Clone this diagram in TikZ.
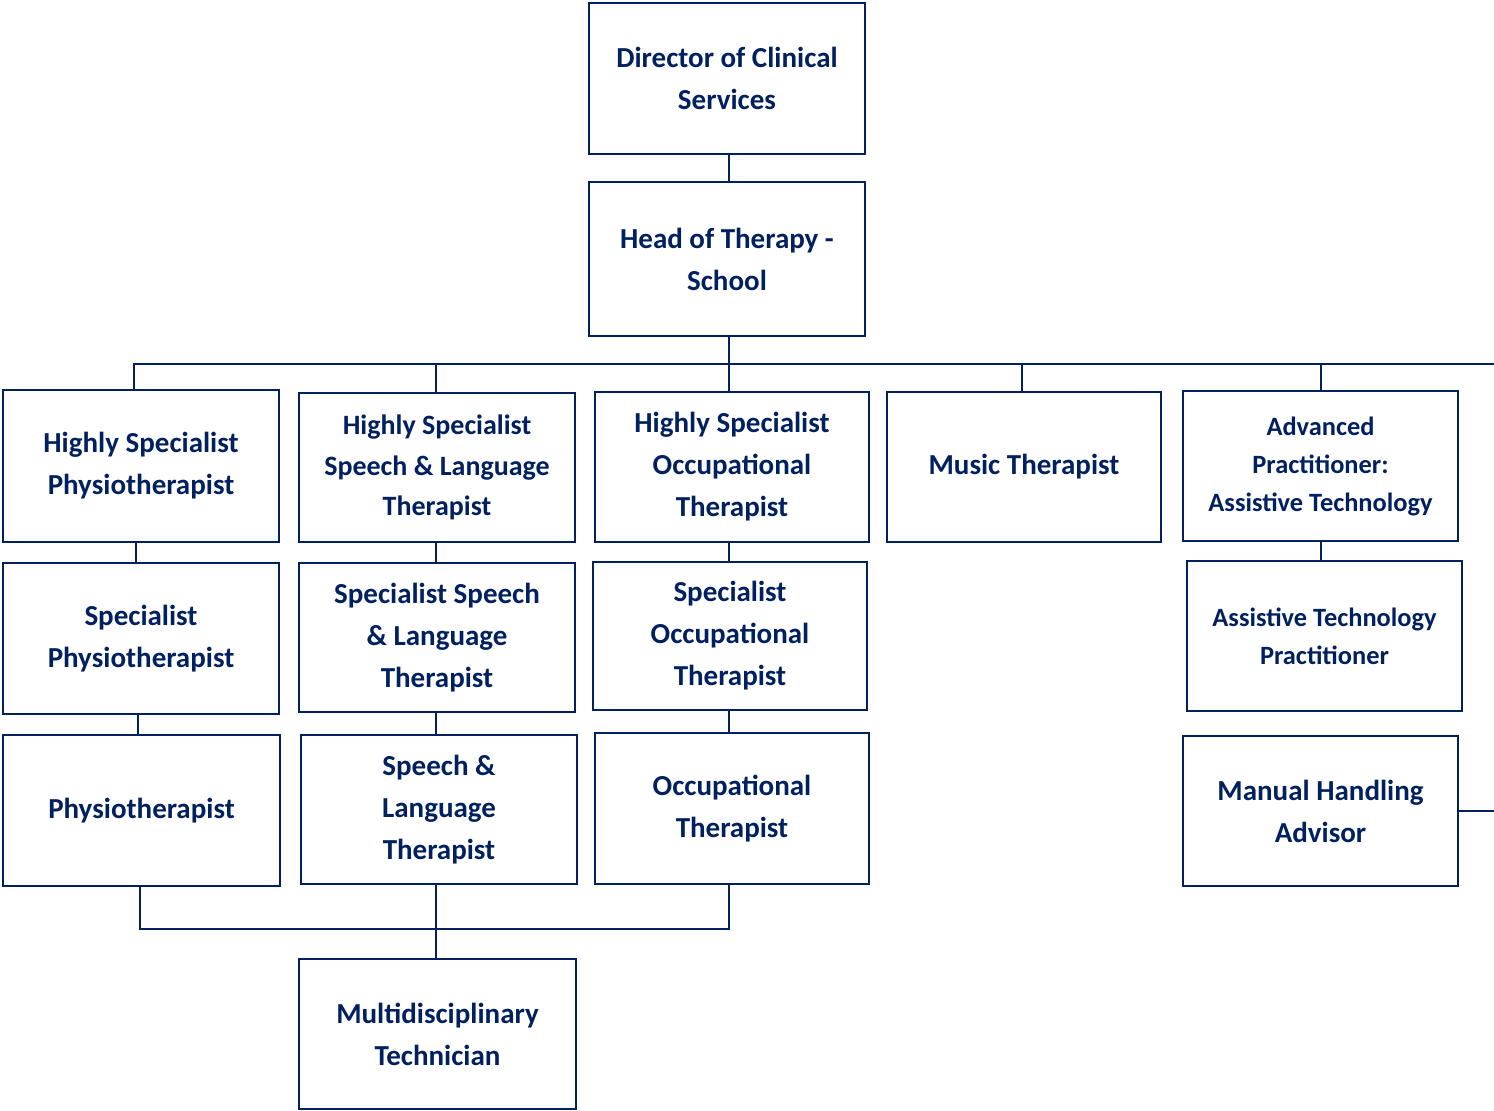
\documentclass[tikz,border=0pt]{standalone}
\usepackage{fontspec}
\setmainfont{Carlito}
\definecolor{navy}{RGB}{0,32,96}
\tikzset{
  box/.style={draw=navy, line width=2.6pt, fill=white, text=navy, align=center,
    inner sep=0pt, font=\bfseries\fontsize{29}{42}\selectfont},
  boxs/.style={box, font=\bfseries\fontsize{26.4}{38}\selectfont},
  boxm/.style={box, font=\bfseries\fontsize{28}{40.5}\selectfont},
  link/.style={draw=navy, line width=1.9pt}
}
\begin{document}
\begin{tikzpicture}[x=1pt,y=-1pt]
\useasboundingbox (0,0) rectangle (1494,1111);
\coordinate (busR) at (1494,364);
\coordinate (mj) at (0,929);

\node[box, minimum width=276, minimum height=151] (dir) at (727,78.5) {Director of Clinical\\Services};
\node[box, minimum width=276, minimum height=154] (head) at (727,259) {Head of Therapy -\\School};

\node[box, minimum width=276, minimum height=152] (hsp) at (141,466) {Highly Specialist\\Physiotherapist};
\node[boxm, minimum width=276, minimum height=149] (hsslt) at (437,467.5) {Highly Specialist\\Speech \& Language\\Therapist};
\node[box, minimum width=274, minimum height=150] (hsot) at (732,467) {Highly Specialist\\Occupational\\Therapist};
\node[box, minimum width=274, minimum height=150] (music) at (1024,467) {Music Therapist};
\node[boxs, minimum width=275, minimum height=150] (ap) at (1320.5,466) {Advanced\\Practitioner:\\Assistive Technology};

\node[box, minimum width=276, minimum height=151] (sp) at (141,638.5) {Specialist\\Physiotherapist};
\node[box, minimum width=276, minimum height=149] (sslt) at (437,637.5) {Specialist Speech\\\& Language\\Therapist};
\node[box, minimum width=274, minimum height=148] (sot) at (730,636) {Specialist\\Occupational\\Therapist};
\node[boxs, minimum width=275, minimum height=150] (atp) at (1324.5,636) {Assistive Technology\\Practitioner};

\node[box, minimum width=277, minimum height=151] (phys) at (141.5,810.5) {Physiotherapist};
\node[box, minimum width=276, minimum height=149] (slt) at (439,809.5) {Speech \&\\Language\\Therapist};
\node[box, minimum width=274, minimum height=151] (ot) at (732,808.5) {Occupational\\Therapist};
\node[box, minimum width=275, minimum height=150] (mha) at (1320.5,811) {Manual Handling\\Advisor};

\node[box, minimum width=277, minimum height=150] (mdt) at (437.5,1034) {Multidisciplinary\\Technician};

% connectors
\draw[link] ([xshift=2pt]dir.south) -- ([xshift=2pt]head.north);
\draw[link] ([xshift=2pt]head.south) -- ([xshift=2pt]head.south |- busR);
\draw[link] ([xshift=-7pt]hsp.north) |- (busR);
\draw[link] ([xshift=-1pt]hsslt.north) -- ([xshift=-1pt]hsslt.north |- busR);
\draw[link] ([xshift=-3pt]hsot.north) -- ([xshift=-3pt]hsot.north |- busR);
\draw[link] ([xshift=-2pt]music.north) -- ([xshift=-2pt]music.north |- busR);
\draw[link] ([xshift=0.5pt]ap.north) -- ([xshift=0.5pt]ap.north |- busR);

\draw[link] ([xshift=-5pt]hsp.south) -- ([xshift=-5pt]hsp.south |- sp.north);
\draw[link] ([xshift=-3pt]sp.south) -- ([xshift=-3pt]sp.south |- phys.north);
\draw[link] ([xshift=-1pt]hsslt.south) -- ([xshift=-1pt]hsslt.south |- sslt.north);
\draw[link] ([xshift=-1pt]sslt.south) -- ([xshift=-1pt]sslt.south |- slt.north);
\draw[link] ([xshift=-3pt]hsot.south) -- ([xshift=-3pt]hsot.south |- sot.north);
\draw[link] ([xshift=-1pt]sot.south) -- ([xshift=-1pt]sot.south |- ot.north);
\draw[link] ([xshift=0.5pt]ap.south) -- ([xshift=0.5pt]ap.south |- atp.north);

\draw[link] ([xshift=-1.5pt]phys.south) |- ([xshift=-3pt]ot.south |- mj) -- ([xshift=-3pt]ot.south);
\draw[link] ([xshift=-3pt]slt.south) -- ([xshift=-3pt]slt.south |- mdt.north);
\draw[link] (mha.east) -- (mha.east -| busR);
\end{tikzpicture}
\end{document}
